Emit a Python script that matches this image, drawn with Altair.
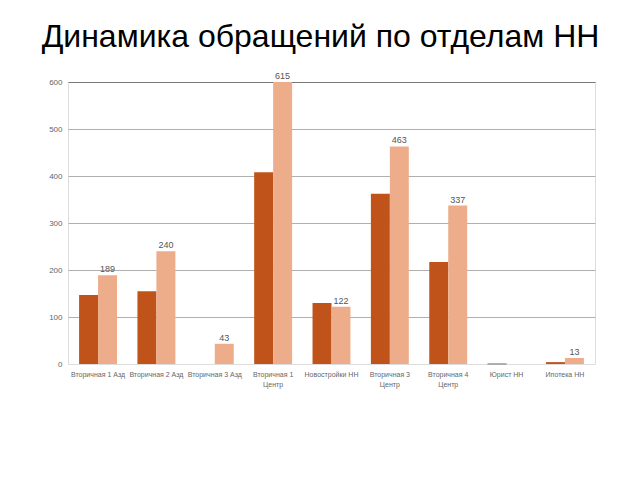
import altair as alt
import pandas as pd

categories = ["Вторичная 1 Азд", "Вторичная 2 Азд", "Вторичная 3 Азд", "Вторичная 1 Центр",
              "Новостройки НН", "Вторичная 3 Центр", "Вторичная 4 Центр", "Юрист НН", "Ипотека НН"]
series_names = ["Прошлый период", "Текущий период"]
prev_values = [147, 155, 0, 408, 130, 362, 217, 0, 4]
curr_values = [189, 240, 43, 615, 122, 463, 337, 0, 13]
colors = ["#C0531A", "#EDAD8A"]
y_ticks = [0, 100, 200, 300, 400, 500, 600]

rows = []
for c, p, q in zip(categories, prev_values, curr_values):
    rows.append({"dept": c, "series": series_names[0], "value": p})
    rows.append({"dept": c, "series": series_names[1], "value": q})
df = pd.DataFrame(rows)

FONT = "Liberation Sans"

x = alt.X("dept:N", sort=categories, title=None,
          scale=alt.Scale(paddingInner=0.35, paddingOuter=0.19),
          axis=alt.Axis(labelExpr="split(replace(datum.label, ' Центр', '|Центр'), '|')",
                        labelAngle=0, labelFontSize=7, labelColor="#666", labelFont=FONT,
                        domain=False, ticks=False, labelPadding=6, labelLineHeight=10))
xo = alt.XOffset("series:N", sort=series_names,
                 scale=alt.Scale(domain=series_names, paddingInner=0, paddingOuter=0))
y = alt.Y("value:Q", title=None,
          scale=alt.Scale(domain=[0, 600], clamp=True, nice=False),
          axis=alt.Axis(values=y_ticks, labelFontSize=8, labelColor="#666", labelFont=FONT,
                        domain=False, ticks=False, labelPadding=6,
                        gridColor={"condition": {"test": "datum.value === 600", "value": "#777"}, "value": "#b0b0b0"},
                        gridOpacity={"condition": {"test": "datum.value === 0", "value": 0}, "value": 1},
                        gridWidth=1))

bars = alt.Chart(df).mark_bar().encode(
    x=x, xOffset=xo, y=y,
    color=alt.Color("series:N", scale=alt.Scale(domain=series_names, range=colors), legend=None),
    stroke=alt.condition("datum.value === 0 && datum.dept === 'Юрист НН' && datum.series === '" + series_names[0] + "'",
                         alt.value("#999"), alt.value("transparent")),
    strokeWidth=alt.value(1),
)

labels = alt.Chart(df).transform_filter(
    f"datum.series === '{series_names[1]}' && datum.value > 0"
).mark_text(baseline="bottom", dy=-1, fontSize=9, color="#555", font=FONT).encode(
    x=x, xOffset=xo, y=y, text="value:Q"
)

chart = alt.layer(bars, labels).properties(
    width=527, height=282,
    title=alt.TitleParams("Динамика обращений по отделам НН", fontSize=32, font=FONT,
                          fontWeight="normal", color="#000", anchor="middle", dx=-11, offset=18),
    padding={"left": 60, "top": 74, "right": 20, "bottom": 100},
    autosize=alt.AutoSizeParams(type="none"),
).configure_view(stroke=None).configure(background="white")

chart.save("out.html", embed_options={"renderer": "svg", "actions": False})
